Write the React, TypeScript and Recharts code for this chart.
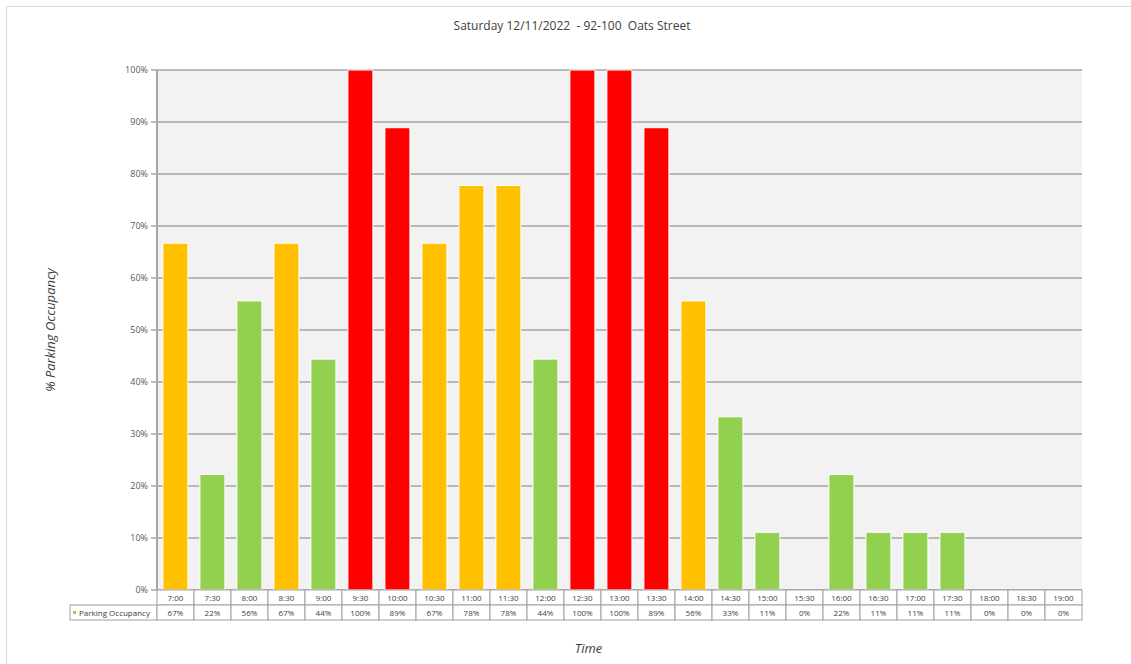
import { Bar, BarChart, CartesianGrid, Cell, XAxis, YAxis } from 'recharts';

const times = [
  '7:00', '7:30', '8:00', '8:30', '9:00', '9:30', '10:00', '10:30', '11:00', '11:30',
  '12:00', '12:30', '13:00', '13:30', '14:00', '14:30', '15:00', '15:30', '16:00', '16:30',
  '17:00', '17:30', '18:00', '18:30', '19:00',
];
const occupancy = [
  66.7, 22.2, 55.6, 66.7, 44.4, 100, 88.9, 66.7, 77.8, 77.8,
  44.4, 100, 100, 88.9, 55.6, 33.3, 11.1, 0, 22.2, 11.1,
  11.1, 11.1, 0, 0, 0,
];
// colour band per interval as shown in the source
const status = [
  'mid', 'low', 'low', 'mid', 'low', 'high', 'high', 'mid', 'mid', 'mid',
  'low', 'high', 'high', 'high', 'mid', 'low', 'low', 'low', 'low', 'low',
  'low', 'low', 'low', 'low', 'low',
];
const yTicks = [0, 10, 20, 30, 40, 50, 60, 70, 80, 90, 100];

const STATUS_COLOR: Record<string, string> = {
  high: '#ff0000',
  mid: '#ffc000',
  low: '#92d050',
};

const W = 1131;
const H = 664;
const PLOT_LEFT = 157;
const PLOT_RIGHT = 1082;
const PLOT_TOP = 70;
const PLOT_BOTTOM = 590;
const XAXIS_H = 30;
const ROW_H = 15;
const CELL_W = (PLOT_RIGHT - PLOT_LEFT) / times.length;
const GRID = '#a6a6a6';
const TABLE_LINE = '#a0a0a0';
const TEXT = '#404040';
const FONT = '"Open Sans", "Noto Sans", sans-serif';

const data = times.map((time, i) => ({
  time,
  value: occupancy[i],
  status: status[i],
}));

function TableTick(props: any) {
  const { x, index } = props;
  const left = x - CELL_W / 2;
  const top = PLOT_BOTTOM;
  return (
    <g fontFamily={FONT} fontSize={8} fill={TEXT}>
      {index === 0 && (
        <g>
          <rect x={70} y={top + ROW_H} width={PLOT_LEFT - 70} height={ROW_H} fill="#fff" stroke={TABLE_LINE} />
          <rect x={73} y={top + ROW_H + 6} width={3} height={3} fill={STATUS_COLOR.low} />
          <text x={79} y={top + ROW_H + 10.5}>Parking Occupancy</text>
        </g>
      )}
      <rect x={left} y={top} width={CELL_W} height={ROW_H} fill="#fff" stroke={TABLE_LINE} />
      <rect x={left} y={top + ROW_H} width={CELL_W} height={ROW_H} fill="#fff" stroke={TABLE_LINE} />
      <text x={x} y={top + 10.5} textAnchor="middle">{times[index]}</text>
      <text x={x} y={top + ROW_H + 10.5} textAnchor="middle">
        {Math.round(occupancy[index])}%
      </text>
    </g>
  );
}

export default function App() {
  return (
    <div
      style={{
        position: 'absolute',
        left: 0,
        top: 0,
        width: W,
        height: H,
        background: '#fff',
        fontFamily: FONT,
      }}
    >
      <div
        style={{
          position: 'absolute',
          left: 6,
          top: 6,
          width: W,
          height: H,
          borderTop: '1px solid #d9d9d9',
          borderLeft: '1px solid #d9d9d9',
        }}
      />
      <div
        style={{
          position: 'absolute',
          left: 0,
          width: 1144,
          top: 17,
          textAlign: 'center',
          fontSize: 12,
          color: '#404040',
        }}
      >
        Saturday 12/11/2022&nbsp; - 92-100&nbsp; Oats Street
      </div>
      <BarChart
        width={W}
        height={H}
        data={data}
        margin={{ top: PLOT_TOP, right: W - PLOT_RIGHT, left: 0, bottom: H - PLOT_BOTTOM - XAXIS_H }}
        barCategoryGap="16%"
        style={{ position: 'absolute', left: 0, top: 0 }}
      >
        <CartesianGrid vertical={false} stroke={GRID} strokeWidth={1.5} fill="#f2f2f2" />
        <XAxis
          dataKey="time"
          height={XAXIS_H}
          axisLine={false}
          tickLine={false}
          interval={0}
          tick={<TableTick />}
          label={{
            value: 'Time',
            position: 'bottom',
            offset: 24,
            dx: -31,
            style: { fontFamily: FONT, fontSize: 13, fontStyle: 'italic', fill: TEXT },
          }}
        />
        <YAxis
          width={PLOT_LEFT}
          domain={[0, 100]}
          ticks={yTicks}
          interval={0}
          tickFormatter={(v: number) => `${v}%`}
          axisLine={{ stroke: GRID, strokeWidth: 2 }}
          tickLine={{ stroke: GRID, strokeWidth: 1.5 }}
          tickSize={6}
          tickMargin={3}
          tick={{ fontFamily: FONT, fontSize: 9, fill: '#595959' }}
          label={{
            value: '% Parking Occupancy',
            angle: -90,
            position: 'insideLeft',
            offset: 50,
            style: { fontFamily: FONT, fontSize: 13, fontStyle: 'italic', fill: TEXT, textAnchor: 'middle' },
          }}
        />
        <Bar dataKey="value" stroke="#ffffff" strokeWidth={1} isAnimationActive={false}>
          {data.map((d) => (
            <Cell key={d.time} fill={STATUS_COLOR[d.status]} />
          ))}
        </Bar>
      </BarChart>
    </div>
  );
}
